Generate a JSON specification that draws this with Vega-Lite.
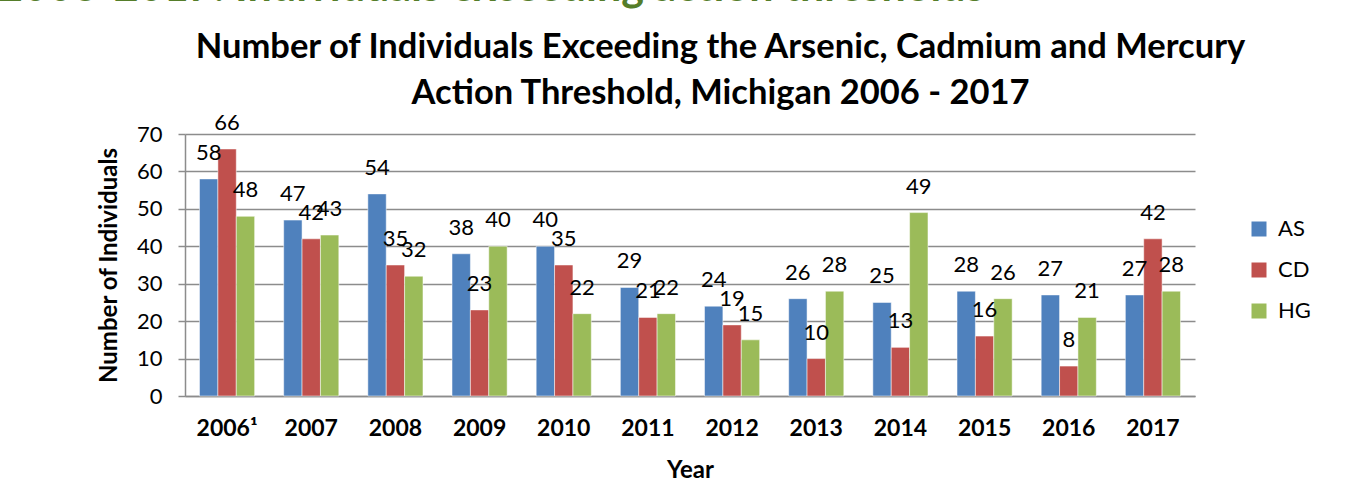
{
  "$schema": "https://vega.github.io/schema/vega-lite/v6.json",
  "autosize": "none",
  "width": 1010,
  "height": 262,
  "padding": {"left": 185, "top": 134, "right": 153, "bottom": 99},
  "background": "white",
  "title": {
    "text": "2006-2017: Individuals exceeding action thresholds",
    "anchor": "start",
    "frame": "group",
    "dx": -187,
    "fontSize": 43,
    "font": "Lato",
    "fontWeight": "bold",
    "color": "#557D2A",
    "baseline": "alphabetic",
    "offset": -15
  },
  "config": {"font": "Lato", "view": {"stroke": null}},
  "data": {
    "values": [
      {"year": "2006¹", "metal": "AS", "value": 58},
      {"year": "2006¹", "metal": "CD", "value": 66},
      {"year": "2006¹", "metal": "HG", "value": 48},
      {"year": "2007", "metal": "AS", "value": 47},
      {"year": "2007", "metal": "CD", "value": 42},
      {"year": "2007", "metal": "HG", "value": 43},
      {"year": "2008", "metal": "AS", "value": 54},
      {"year": "2008", "metal": "CD", "value": 35},
      {"year": "2008", "metal": "HG", "value": 32},
      {"year": "2009", "metal": "AS", "value": 38},
      {"year": "2009", "metal": "CD", "value": 23},
      {"year": "2009", "metal": "HG", "value": 40},
      {"year": "2010", "metal": "AS", "value": 40},
      {"year": "2010", "metal": "CD", "value": 35},
      {"year": "2010", "metal": "HG", "value": 22},
      {"year": "2011", "metal": "AS", "value": 29},
      {"year": "2011", "metal": "CD", "value": 21},
      {"year": "2011", "metal": "HG", "value": 22},
      {"year": "2012", "metal": "AS", "value": 24},
      {"year": "2012", "metal": "CD", "value": 19},
      {"year": "2012", "metal": "HG", "value": 15},
      {"year": "2013", "metal": "AS", "value": 26},
      {"year": "2013", "metal": "CD", "value": 10},
      {"year": "2013", "metal": "HG", "value": 28},
      {"year": "2014", "metal": "AS", "value": 25},
      {"year": "2014", "metal": "CD", "value": 13},
      {"year": "2014", "metal": "HG", "value": 49},
      {"year": "2015", "metal": "AS", "value": 28},
      {"year": "2015", "metal": "CD", "value": 16},
      {"year": "2015", "metal": "HG", "value": 26},
      {"year": "2016", "metal": "AS", "value": 27},
      {"year": "2016", "metal": "CD", "value": 8},
      {"year": "2016", "metal": "HG", "value": 21},
      {"year": "2017", "metal": "AS", "value": 27},
      {"year": "2017", "metal": "CD", "value": 42},
      {"year": "2017", "metal": "HG", "value": 28}
    ]
  },
  "encoding": {
    "xOffset": {"field": "metal", "type": "nominal", "scale": {"paddingInner": 0, "paddingOuter": 0}},
    "y": {
      "field": "value",
      "type": "quantitative",
      "scale": {"domain": [0, 70], "nice": false},
      "axis": {
        "title": "Number of Individuals",
        "values": [0, 10, 20, 30, 40, 50, 60, 70],
        "labelFontSize": 22,
        "labelColor": "#000000",
        "titleFontSize": 24,
        "titleFontWeight": "bold",
        "titleColor": "#000000",
        "gridColor": "#8c8c8c",
        "gridWidth": 1.5,
        "domainColor": "#8c8c8c",
        "domainWidth": 1.5,
        "tickColor": "#8c8c8c",
        "tickWidth": 1.5,
        "tickSize": 7,
        "labelPadding": 16,
        "titlePadding": 15
      }
    }
  },
  "layer": [
    {
      "mark": {"type": "bar", "stroke": "#ffffff", "strokeWidth": 0.5},
      "encoding": {
        "x": {
          "field": "year",
          "type": "nominal",
          "sort": null,
          "scale": {"paddingInner": 0.345, "paddingOuter": 0.1725},
          "axis": {
            "orient": "bottom",
            "title": "Year",
            "labelAngle": 0,
            "labelFontWeight": "bold",
            "labelFontSize": 23,
            "labelColor": "#000000",
            "titleFontSize": 24,
            "titleFontWeight": "bold",
            "titleColor": "#000000",
            "domainColor": "#8c8c8c",
            "domainWidth": 1.5,
            "ticks": false,
            "labelPadding": 21,
            "titlePadding": 18,
            "grid": false
          }
        },
        "color": {
          "field": "metal",
          "type": "nominal",
          "scale": {"domain": ["AS", "CD", "HG"], "range": ["#4F81BD", "#C0504D", "#9BBB59"]},
          "legend": {
            "title": null,
            "orient": "none",
            "legendX": 1063,
            "legendY": 84,
            "symbolType": "square",
            "symbolSize": 225,
            "symbolStrokeWidth": 0,
            "labelFontSize": 22,
            "labelColor": "#000000",
            "rowPadding": 19,
            "labelOffset": 8
          }
        }
      }
    },
    {
      "mark": {"type": "text", "baseline": "middle", "dy": -26, "fontSize": 22, "color": "#000000"},
      "encoding": {
        "x": {
          "field": "year",
          "type": "nominal",
          "sort": null,
          "scale": {"paddingInner": 0.345, "paddingOuter": 0.1725},
          "axis": {
            "orient": "top",
            "labels": false,
            "ticks": false,
            "domain": false,
            "grid": false,
            "title": ["Number of Individuals Exceeding the Arsenic, Cadmium and Mercury", "Action Threshold, Michigan 2006 - 2017"],
            "titleFontSize": 34.5,
            "titleFontWeight": "bold",
            "titleColor": "#000000",
            "titleLineHeight": 46,
            "titleAlign": "center",
            "titleBaseline": "alphabetic",
            "titleX": 535,
            "titleY": -77
          }
        },
        "text": {"field": "value", "type": "quantitative"}
      }
    }
  ],
  "resolve": {"scale": {"x": "independent"}, "axis": {"x": "independent"}}
}
